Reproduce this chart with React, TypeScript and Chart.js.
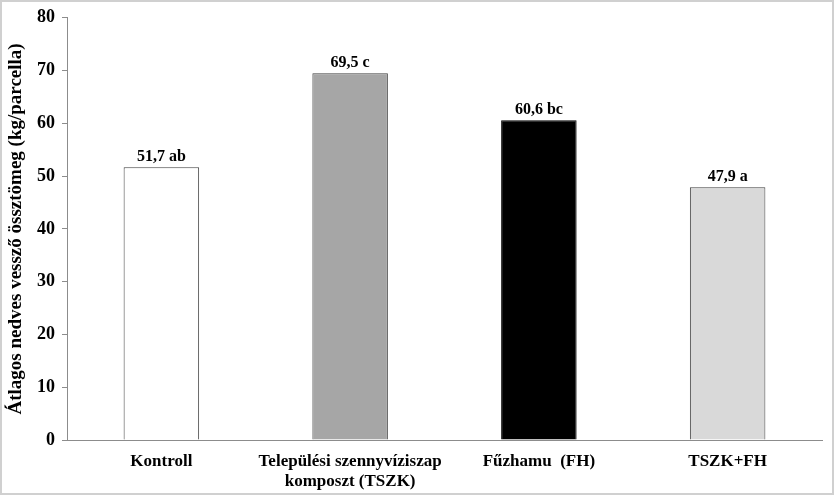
import React, { useEffect, useRef } from 'react';
import { Chart, registerables } from 'chart.js';

Chart.register(...registerables);

const categories = [
  'Kontroll',
  ['Települési szennyvíziszap', 'komposzt (TSZK)'],
  'Fűzhamu  (FH)',
  'TSZK+FH',
];
const values = [51.7, 69.5, 60.6, 47.9];
const valueLabels = ['51,7 ab', '69,5 c', '60,6 bc', '47,9 a'];
const barColors = ['#ffffff', '#a6a6a6', '#000000', '#d9d9d9'];
const yTitle = 'Átlagos nedves vessző össztömeg (kg/parcella)';

const FONT = '"Liberation Serif", "Times New Roman", serif';

// frame round the whole picture
const framePlugin = {
  id: 'frame',
  beforeDraw(chart) {
    const { ctx, width, height } = chart;
    ctx.save();
    ctx.fillStyle = '#ffffff';
    ctx.fillRect(0, 0, width, height);
    ctx.strokeStyle = '#d0d0d0';
    ctx.lineWidth = 2;
    ctx.strokeRect(1, 1, width - 2, height - 3);
    ctx.restore();
  },
};

// value + letter labels above the bars
const valueLabelPlugin = {
  id: 'valueLabels',
  afterDatasetsDraw(chart) {
    const { ctx } = chart;
    const meta = chart.getDatasetMeta(0);
    ctx.save();
    ctx.font = `bold 16px ${FONT}`;
    ctx.fillStyle = '#000';
    ctx.textAlign = 'center';
    ctx.textBaseline = 'alphabetic';
    meta.data.forEach((bar, i) => {
      ctx.fillText(valueLabels[i], bar.x, bar.y - 6);
    });
    ctx.restore();
  },
};

const App = () => {
  const chartRef = useRef(null);

  useEffect(() => {
    const ctx = chartRef.current.getContext('2d');

    const myChart = new Chart(ctx, {
      type: 'bar',
      data: {
        labels: categories,
        datasets: [
          {
            data: values,
            backgroundColor: barColors,
            borderColor: ['#404040', '#404040', '#000000', '#404040'],
            borderWidth: 1,
            barPercentage: 0.4,
            categoryPercentage: 1,
          },
        ],
      },
      options: {
        animation: false,
        responsive: false,
        layout: { padding: { top: 13, right: 12, left: 0, bottom: 0 } },
        plugins: {
          legend: { display: false },
          tooltip: { enabled: false },
        },
        scales: {
          x: {
            grid: { display: false, drawTicks: false },
            border: { display: true, color: '#8c8c8c', width: 1 },
            ticks: {
              color: '#000',
              padding: 12,
              maxRotation: 0,
              autoSkip: false,
              font: { family: FONT, size: 17, weight: 'bold', lineHeight: 1.18 },
            },
            afterFit: (s) => {
              s.height = 56;
            },
          },
          y: {
            min: 0,
            max: 80,
            ticks: {
              stepSize: 10,
              color: '#000',
              padding: 7,
              font: { family: FONT, size: 18, weight: 'bold' },
            },
            grid: {
              display: true,
              drawOnChartArea: false,
              drawTicks: true,
              tickLength: 5,
              color: '#8c8c8c',
            },
            border: { display: true, color: '#8c8c8c', width: 1 },
            title: {
              display: true,
              text: yTitle,
              color: '#000',
              padding: { top: 5, bottom: 0 },
              font: { family: FONT, size: 19, weight: 'bold' },
            },
            afterFit: (s) => {
              s.width = 67;
            },
          },
        },
      },
      plugins: [framePlugin, valueLabelPlugin],
    });

    return () => {
      myChart.destroy();
    };
  }, []);

  return (
    <div style={{ position: 'absolute', left: 0, top: 0, width: 834, height: 496 }}>
      <canvas ref={chartRef} width={834} height={496} style={{ display: 'block' }} />
    </div>
  );
};

export default App;
